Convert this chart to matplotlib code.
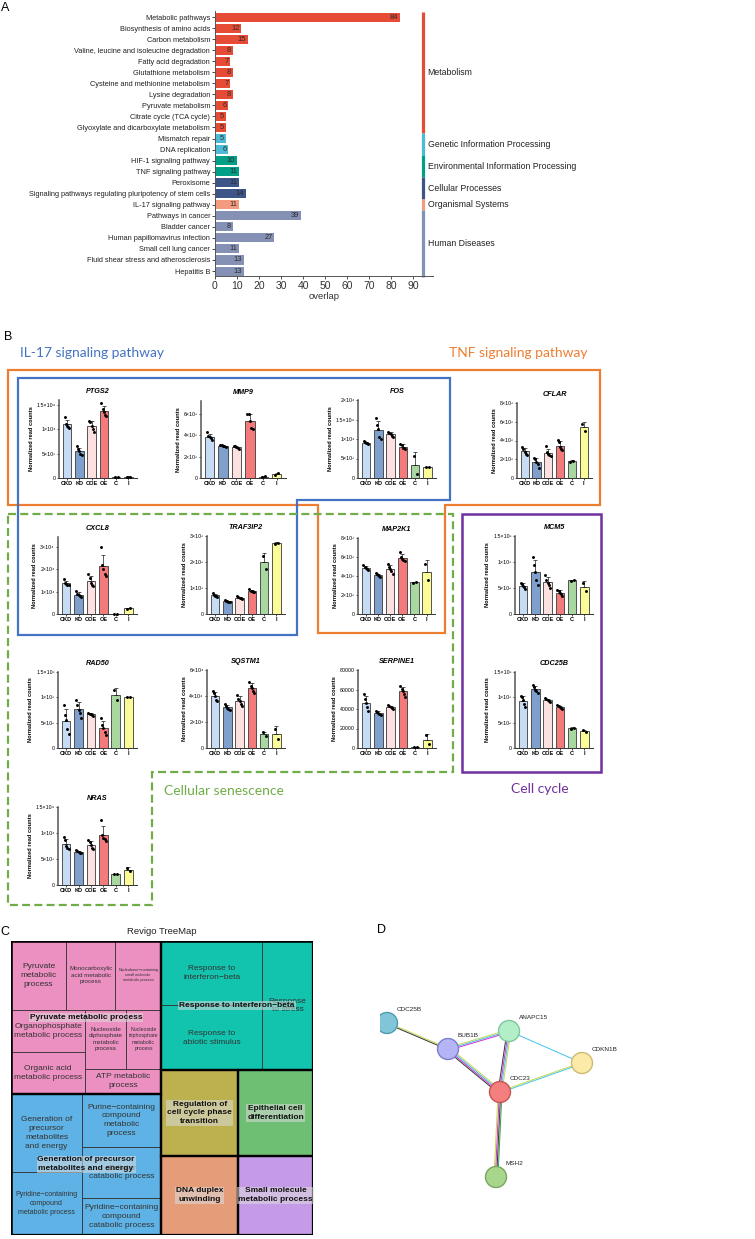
''' KEGG overlap, read counts, revigo treemap and STRING network figure '''
import numpy as np
import matplotlib
matplotlib.use('Agg')
import matplotlib.pyplot as plt
from matplotlib.patches import Rectangle, Polygon, Circle

W, H = 755, 1239
plt.rcParams['font.family'] = ['Liberation Sans', 'DejaVu Sans']

# ---- panel A: KEGG pathways
kegg_terms = ['Metabolic pathways', 'Biosynthesis of amino acids', 'Carbon metabolism',
              'Valine, leucine and isoleucine degradation', 'Fatty acid degradation',
              'Glutathione metabolism', 'Cysteine and methionine metabolism', 'Lysine degradation',
              'Pyruvate metabolism', 'Citrate cycle (TCA cycle)',
              'Glyoxylate and dicarboxylate metabolism', 'Mismatch repair', 'DNA replication',
              'HIF-1 signaling pathway', 'TNF signaling pathway', 'Peroxisome',
              'Signaling pathways regulating pluripotency of stem cells', 'IL-17 signaling pathway',
              'Pathways in cancer', 'Bladder cancer', 'Human papillomavirus infection',
              'Small cell lung cancer', 'Fluid shear stress and atherosclerosis', 'Hepatitis B']
kegg_overlap = [84, 12, 15, 8, 7, 8, 7, 8, 6, 5, 5, 5, 6, 10, 11, 11, 14, 11, 39, 8, 27, 11, 13, 13]
kegg_classes = ['Metabolism', 'Genetic Information Processing', 'Environmental Information Processing',
                'Cellular Processes', 'Organismal Systems', 'Human Diseases']
kegg_class_size = [11, 2, 2, 2, 1, 6]
class_colors = ['#e64b35', '#4dbbd5', '#00a087', '#3c5488', '#f39b7f', '#8491b4']

# ---- panel B: normalized read counts (replicates per group)
groups = ['CKD', 'KD', 'COE', 'OE', 'C', 'I']
group_colors = ['#c5dcf4', '#7f9fcc', '#fde1e1', '#f47b7b', '#a8d8a0', '#fbfb98']

PTGS2 = [[12500, 11200, 10800, 10500, 10300], [6500, 6000, 5500, 5000, 4700],
         [11800, 11500, 10800, 10000, 9500], [15500, 14200, 13500, 13000, 12800], [150, 250], [150, 300]]
MMP9 = [[4300, 3900, 3800, 3700, 3600], [3100, 3050, 3000, 2950, 2900],
        [3000, 2950, 2900, 2800, 2700], [6000, 6000, 5300, 4700, 4600], [80, 150], [250, 450]]
FOS = [[9500, 9200, 9000, 8900, 8800], [15500, 13500, 12500, 10500, 10000],
       [11800, 11500, 11200, 10800, 10600], [8800, 8500, 7800, 7600, 7400], [5600, 1000], [2700, 2900]]
CFLAR = [[3300, 3100, 2800, 2600, 2500], [2100, 2000, 1700, 1500, 1100],
         [3400, 2800, 2600, 2500, 2300], [4100, 3800, 3300, 3100, 3000], [1700, 1850], [5800, 5000]]
CXCL8 = [[15500, 14000, 13500, 13000, 12800], [10500, 9000, 8500, 8000, 7500],
         [18000, 16000, 14000, 13000, 12500], [30000, 22000, 20000, 18000, 17000], [150, 200], [2400, 2700]]
TRAF3IP2 = [[820, 750, 700, 680, 650], [520, 500, 490, 480, 470],
            [680, 650, 620, 600, 560], [950, 900, 880, 860, 840], [2250, 1750], [2700, 2750]]
MAP2K1 = [[5200, 4900, 4800, 4700, 4600], [4300, 4200, 4100, 4000, 3900],
          [5300, 4900, 4700, 4500, 4200], [6500, 6000, 5800, 5700, 5600], [3300, 3400], [5300, 3600]]
MCM5 = [[600, 570, 540, 510, 480], [1100, 950, 800, 650, 550],
        [750, 650, 600, 550, 500], [470, 440, 410, 380, 350], [640, 650], [600, 450]]
RAD50 = [[850, 650, 550, 380, 280], [950, 850, 750, 700, 600],
         [700, 680, 670, 650, 640], [600, 450, 400, 320, 250], [1150, 950], [1000, 1000]]
SQSTM1 = [[44000, 42000, 40000, 37000, 36000], [34000, 32000, 31000, 30000, 29000],
          [41000, 38000, 36000, 34000, 32000], [51000, 48000, 46000, 44000, 42000], [12000, 9000], [15000, 7000]]
SERPINE1 = [[55000, 50000, 46000, 42000, 38000], [38000, 37000, 36000, 35000, 34000],
            [44000, 43000, 42000, 41000, 40000], [64000, 61000, 58000, 55000, 52000], [800, 1200], [13000, 4000]]
CDC25B = [[1020, 1000, 950, 870, 800], [1250, 1200, 1150, 1120, 1080],
          [980, 960, 940, 920, 900], [850, 820, 800, 780, 760], [370, 400], [350, 310]]
NRAS = [[9200, 8600, 7500, 7200, 7000], [6700, 6500, 6300, 6200, 6100],
        [8700, 8300, 7600, 7200, 7000], [12500, 9600, 9000, 8800, 8400], [2100, 2100], [3300, 2600]]

# y ticks per gene
PTGS2_ticks = [0, 5000, 10000, 15000]
MMP9_ticks = [0, 2000, 4000, 6000]
FOS_ticks = [0, 5000, 10000, 15000, 20000]
CFLAR_ticks = [0, 2000, 4000, 6000, 8000]
CXCL8_ticks = [0, 10000, 20000, 30000]
TRAF3IP2_ticks = [0, 1000, 2000, 3000]
MAP2K1_ticks = [0, 2000, 4000, 6000, 8000]
MCM5_ticks = [0, 500, 1000, 1500]
RAD50_ticks = [0, 500, 1000, 1500]
SQSTM1_ticks = [0, 20000, 40000, 60000]
SERPINE1_ticks = [0, 20000, 40000, 60000, 80000]
CDC25B_ticks = [0, 500, 1000, 1500]
NRAS_ticks = [0, 5000, 10000, 15000]

# ---- panel C: revigo treemap (cell extents, 0-100 units)
tm_labels = ['Pyruvate\nmetabolic\nprocess', 'Monocarboxylic\nacid metabolic\nprocess',
             'Nucleobase\u2212containing\nsmall molecule\nmetabolic process',
             'Organophosphate\nmetabolic process', 'Organic acid\nmetabolic process',
             'Nucleoside\ndiphosphate\nmetabolic\nprocess', 'Nucleoside\ntriphosphate\nmetabolic\nprocess',
             'ATP metabolic\nprocess',
             'Generation of\nprecursor\nmetabolites\nand energy', 'Purine\u2212containing\ncompound\nmetabolic\nprocess',
             'Cellular\ncatabolic process', 'Pyridine\u2212containing\ncompound\nmetabolic process',
             'Pyridine\u2212containing\ncompound\ncatabolic process',
             'Response to\ninterferon\u2212beta', 'Response to\nabiotic stimulus', 'Response\nto stress',
             'Regulation of\ncell cycle phase\ntransition', 'Epithelial cell\ndifferentiation',
             'DNA duplex\nunwinding', 'Small molecule\nmetabolic process']
tm_group = [0, 0, 0, 0, 0, 0, 0, 0, 1, 1, 1, 1, 1, 2, 2, 2, 3, 4, 5, 6]
tm_x0 = [0, 18.3, 34.5, 0, 0, 24.6, 38.0, 24.6, 0, 23.5, 23.5, 0, 23.5, 49.7, 49.7, 83.2, 49.7, 75.2, 49.7, 75.2]
tm_x1 = [18.3, 34.5, 49.7, 24.6, 24.6, 38.0, 49.7, 49.7, 23.5, 49.7, 49.7, 23.5, 49.7, 83.2, 83.2, 100, 75.2, 100, 75.2, 100]
tm_y0 = [0, 0, 0, 23.3, 37.7, 23.3, 23.3, 43.4, 51.9, 51.9, 70.0, 78.7, 87.5, 0, 21.9, 0, 43.9, 43.9, 73.0, 73.0]
tm_y1 = [23.3, 23.3, 23.3, 37.7, 51.9, 43.4, 43.4, 51.9, 78.7, 70.0, 87.5, 100, 100, 21.9, 43.9, 43.9, 73.0, 73.0, 100, 100]
tm_fontsize = [6, 4.5, 2.8, 6, 6, 4.5, 3.8, 6, 6, 6, 6, 5, 6, 6, 6, 6, 6, 6, 6, 6]
tm_group_names = ['Pyruvate metabolic process', 'Generation of precursor\nmetabolites and energy',
                  'Response to interferon\u2212beta', 'Regulation of\ncell cycle phase\ntransition',
                  'Epithelial cell\ndifferentiation', 'DNA duplex\nunwinding', 'Small molecule\nmetabolic process']
tm_group_colors = ['#ec8fc1', '#5eb2e5', '#12c3ae', '#bdb04e', '#6ebf74', '#e49c79', '#c59ae7']

# ---- panel D: STRING network (layout units ~ pixels)
net_nodes = ['CDC25B', 'BUB1B', 'ANAPC15', 'CDKN1B', 'CDC23', 'MSH2']
net_x = [7, 68, 129, 202, 120, 116]
net_y = [88, 114, 96, 128, 157, 242]
net_colors = ['#80c6d8', '#b4b4f6', '#b2efc9', '#fbeaa8', '#f47f7f', '#a9d68d']
net_edge_colors = ['#4f9bb0', '#7d7dcc', '#7fc79a', '#cdbb72', '#c85454', '#78a85c']
net_edges = [(0, 1), (1, 2), (1, 4), (2, 4), (2, 3), (3, 4), (4, 5)]
net_edge_types = [['text', 'coexp'], ['text', 'db', 'exp'], ['text', 'db', 'exp', 'coexp'],
                  ['text', 'db', 'exp', 'coexp'], ['db'], ['db', 'text'],
                  ['nbh', 'coexp', 'exp', 'text']]
evidence_colors = {'text': '#c8d84a', 'db': '#3fc4ea', 'exp': '#d12fd1', 'coexp': '#333333', 'nbh': '#2e9e3a'}


fig = plt.figure(figsize=(W / 100, H / 100), dpi=100)


def px_axes(x0, y0, x1, y1):
    return fig.add_axes([x0 / W, 1 - y1 / H, (x1 - x0) / W, (y1 - y0) / H])


SUP = str.maketrans('0123456789', '\u2070\u00b9\u00b2\u00b3\u2074\u2075\u2076\u2077\u2078\u2079')


def count_label(v, plain=False):
    if v == 0:
        return '0'
    if plain:
        return '%d' % v
    e = int(np.floor(np.log10(v)))
    m = v / 10 ** e
    ms = ('%g' % m)
    return '%s\u00d710%s' % (ms, str(e).translate(SUP))


# ---------------- panel A
ax = px_axes(215, 11, 433, 276)
pos = np.arange(len(kegg_terms))
bar_cols = []
for c, n in zip(class_colors, kegg_class_size):
    bar_cols += [c] * n
ax.barh(pos, kegg_overlap, height=0.82, color=bar_cols)
for i, v in enumerate(kegg_overlap):
    ax.text(v - 0.8, i, str(v), ha='right', va='center', fontsize=5.4, color='#2b2b2b')
ax.set_ylim(23.45, -0.55)
ax.set_xlim(0, 99)
ax.set_yticks(pos)
ax.set_yticklabels(kegg_terms, fontsize=5.35, color='#222')
ax.set_xticks(range(0, 100, 10))
ax.tick_params(axis='x', labelsize=7.5, length=2.5, width=0.6, pad=1, colors='#333')
ax.tick_params(axis='y', length=2, width=0.5, pad=1.5)
ax.set_xlabel('overlap', fontsize=6.8, labelpad=1, color='#333')
for s in ['top', 'right']:
    ax.spines[s].set_visible(False)
for s in ['left', 'bottom']:
    ax.spines[s].set_color('#555')
    ax.spines[s].set_linewidth(0.7)
start = 0
for name, n, c in zip(kegg_classes, kegg_class_size, class_colors):
    ax.plot([94.5, 94.5], [start - 0.5, start + n - 0.5], color=c, lw=2.3, solid_capstyle='butt', clip_on=False)
    ax.text(96.6, start + (n - 1) / 2, name, fontsize=6.3, va='center', ha='left', color='#222', clip_on=False)
    start += n

# ---------------- panel B
def read_count_plot(box, name, pts, ticks, plain=False):
    a = px_axes(*box)
    x = np.arange(len(groups))
    means = np.array([np.mean(p) for p in pts])
    sds = np.array([np.std(p, ddof=1) for p in pts])
    a.errorbar(x, means, yerr=[np.zeros(len(x)), sds], fmt='none', ecolor='#1a1a1a',
               elinewidth=0.5, capsize=1.4, capthick=0.5, zorder=3)
    a.bar(x, means, width=0.7, color=group_colors, edgecolor='#3a3a3a', linewidth=0.6, zorder=2)
    for i, p in enumerate(pts):
        off = np.linspace(-0.2, 0.2, len(p)) if len(p) > 2 else np.array([-0.13, 0.13])
        a.scatter(i + off, p, s=4.5, color='black', linewidths=0, zorder=4, clip_on=False)
    a.set_xlim(-0.65, 5.7)
    a.set_ylim(0, ticks[-1])
    a.set_yticks(ticks)
    a.set_yticklabels([count_label(t, plain) for t in ticks])
    a.set_xticks(x)
    a.set_xticklabels(groups, fontweight='bold')
    a.tick_params(axis='y', labelsize=3.8, length=1.5, width=0.5, pad=1)
    a.tick_params(axis='x', labelsize=4.1, length=1.5, width=0.5, pad=1)
    a.set_title(name, fontsize=5.2, fontweight='bold', style='italic', pad=5)
    a.set_ylabel('Normalized read counts', fontsize=4.1, fontweight='bold', labelpad=2)
    a.patch.set_alpha(0)
    for s in ['top', 'right']:
        a.spines[s].set_visible(False)
    a.spines['left'].set_color('#555')
    a.spines['left'].set_linewidth(1.1)
    a.spines['bottom'].set_color('#333')
    a.spines['bottom'].set_linewidth(0.7)
    return a


read_count_plot((59, 400, 137, 478), 'PTGS2', PTGS2, PTGS2_ticks).set_ylim(0, PTGS2_ticks[-1] * 1.07)
read_count_plot((201, 401, 286, 478), 'MMP9', MMP9, MMP9_ticks).set_ylim(0, MMP9_ticks[-1] * 1.2)
read_count_plot((358, 400, 436, 478), 'FOS', FOS, FOS_ticks)
read_count_plot((517, 403, 592, 478), 'CFLAR', CFLAR, CFLAR_ticks)
read_count_plot((58, 537, 137, 614), 'CXCL8', CXCL8, CXCL8_ticks).set_ylim(0, CXCL8_ticks[-1] * 1.15)
read_count_plot((207, 536, 285, 614), 'TRAF3IP2', TRAF3IP2, TRAF3IP2_ticks)
read_count_plot((358, 538, 435, 614), 'MAP2K1', MAP2K1, MAP2K1_ticks)
read_count_plot((515, 536, 593, 614), 'MCM5', MCM5, MCM5_ticks)
read_count_plot((58, 672, 137, 748), 'RAD50', RAD50, RAD50_ticks)
read_count_plot((207, 670, 285, 748), 'SQSTM1', SQSTM1, SQSTM1_ticks)
read_count_plot((358, 670, 436, 748), 'SERPINE1', SERPINE1, SERPINE1_ticks, plain=True)
read_count_plot((515, 672, 593, 748), 'CDC25B', CDC25B, CDC25B_ticks)
read_count_plot((58, 807, 137, 885), 'NRAS', NRAS, NRAS_ticks)

# ---------------- panel C
tm = px_axes(11, 941, 313, 1235)
tm.set_xlim(0, 100)
tm.set_ylim(100, 0)
tm.axis('off')
gbox = {}
for i, lab in enumerate(tm_labels):
    g = tm_group[i]
    x0, x1, y0, y1 = tm_x0[i], tm_x1[i], tm_y0[i], tm_y1[i]
    tm.add_patch(Rectangle((x0, y0), x1 - x0, y1 - y0, fc=tm_group_colors[g], ec='#333', lw=0.6))
    b = gbox.get(g, [x0, x1, y0, y1])
    gbox[g] = [min(b[0], x0), max(b[1], x1), min(b[2], y0), max(b[3], y1)]
    if tm_group.count(g) > 1:
        tm.text((x0 + x1) / 2, (y0 + y1) / 2, lab, ha='center', va='center',
                fontsize=tm_fontsize[i], color='#333', linespacing=1.35)
for g, (x0, x1, y0, y1) in gbox.items():
    tm.add_patch(Rectangle((x0, y0), x1 - x0, y1 - y0, fill=False, ec='black', lw=1.6))
    tm.text((x0 + x1) / 2, (y0 + y1) / 2, tm_group_names[g], ha='center', va='center',
            fontsize=6, fontweight='bold', color='#111', linespacing=1.35,
            bbox=dict(boxstyle='square,pad=0.1', fc='#dcdcdc', ec='none', alpha=0.55))
tm.add_patch(Rectangle((0, 0), 100, 100, fill=False, ec='black', lw=1.8))

# ---------------- panel D
nd = px_axes(380, 935, 755, 1239)
nd.set_xlim(0, 375)
nd.set_ylim(304, 0)
nd.axis('off')
for (i, j), kinds in zip(net_edges, net_edge_types):
    dx, dy = net_x[j] - net_x[i], net_y[j] - net_y[i]
    L = np.hypot(dx, dy)
    nx, ny = -dy / L, dx / L
    k = len(kinds)
    for m, kind in enumerate(kinds):
        o = (m - (k - 1) / 2) * 1.3
        nd.plot([net_x[i] + nx * o, net_x[j] + nx * o], [net_y[i] + ny * o, net_y[j] + ny * o],
                color=evidence_colors[kind], lw=0.7, zorder=1)
for n, x, y, fc, ec in zip(net_nodes, net_x, net_y, net_colors, net_edge_colors):
    nd.add_patch(Circle((x, y), 10.5, fc=fc, ec=ec, lw=1.0, zorder=3))
    nd.text(x + 10, y - 12, n, fontsize=4.6, color='#222', zorder=4)

# ---------------- overlay: panel letters, boxes, headings
ov = fig.add_axes([0, 0, 1, 1])
ov.set_xlim(0, W)
ov.set_ylim(H, 0)
ov.axis('off')
ov.patch.set_alpha(0)

for t, x, y in [('A', 1, 8), ('B', 4, 337), ('C', 0, 932), ('D', 377, 930)]:
    ov.text(x, y, t, fontsize=9, va='center', ha='left', color='black')

orange = '#ed7d31'
blue = '#4472c4'
green = '#70ad47'
purple = '#7030a0'
ov.add_patch(Polygon([(8, 370), (600, 370), (600, 505), (445, 505), (445, 633), (318, 633),
                      (318, 505), (8, 505)], closed=True, fill=False, ec=orange, lw=1.6))
ov.add_patch(Polygon([(18, 378), (450, 378), (450, 500), (297, 500), (297, 635), (18, 635)],
                     closed=True, fill=False, ec=blue, lw=1.6))
ov.add_patch(Polygon([(8, 514), (453, 514), (453, 772), (152, 772), (152, 905), (8, 905)],
                     closed=True, fill=False, ec=green, lw=1.6, ls=(0, (3.6, 1.9))))
ov.add_patch(Rectangle((462, 514), 139, 258, fill=False, ec=purple, lw=1.8))

ov.text(20, 353, 'IL-17 signaling pathway', color=blue, fontsize=10, family='Lato', va='center')
ov.text(449, 353, 'TNF signaling pathway', color=orange, fontsize=10, family='Lato', va='center')
ov.text(164, 791, 'Cellular senescence', color=green, fontsize=10, family='Lato', va='center')
ov.text(540, 789, 'Cell cycle', color=purple, fontsize=10, family='Lato', va='center', ha='center')
ov.text(162, 932, 'Revigo TreeMap', fontsize=6.8, ha='center', va='center', color='#222')

fig.savefig('out.png', dpi=100)
